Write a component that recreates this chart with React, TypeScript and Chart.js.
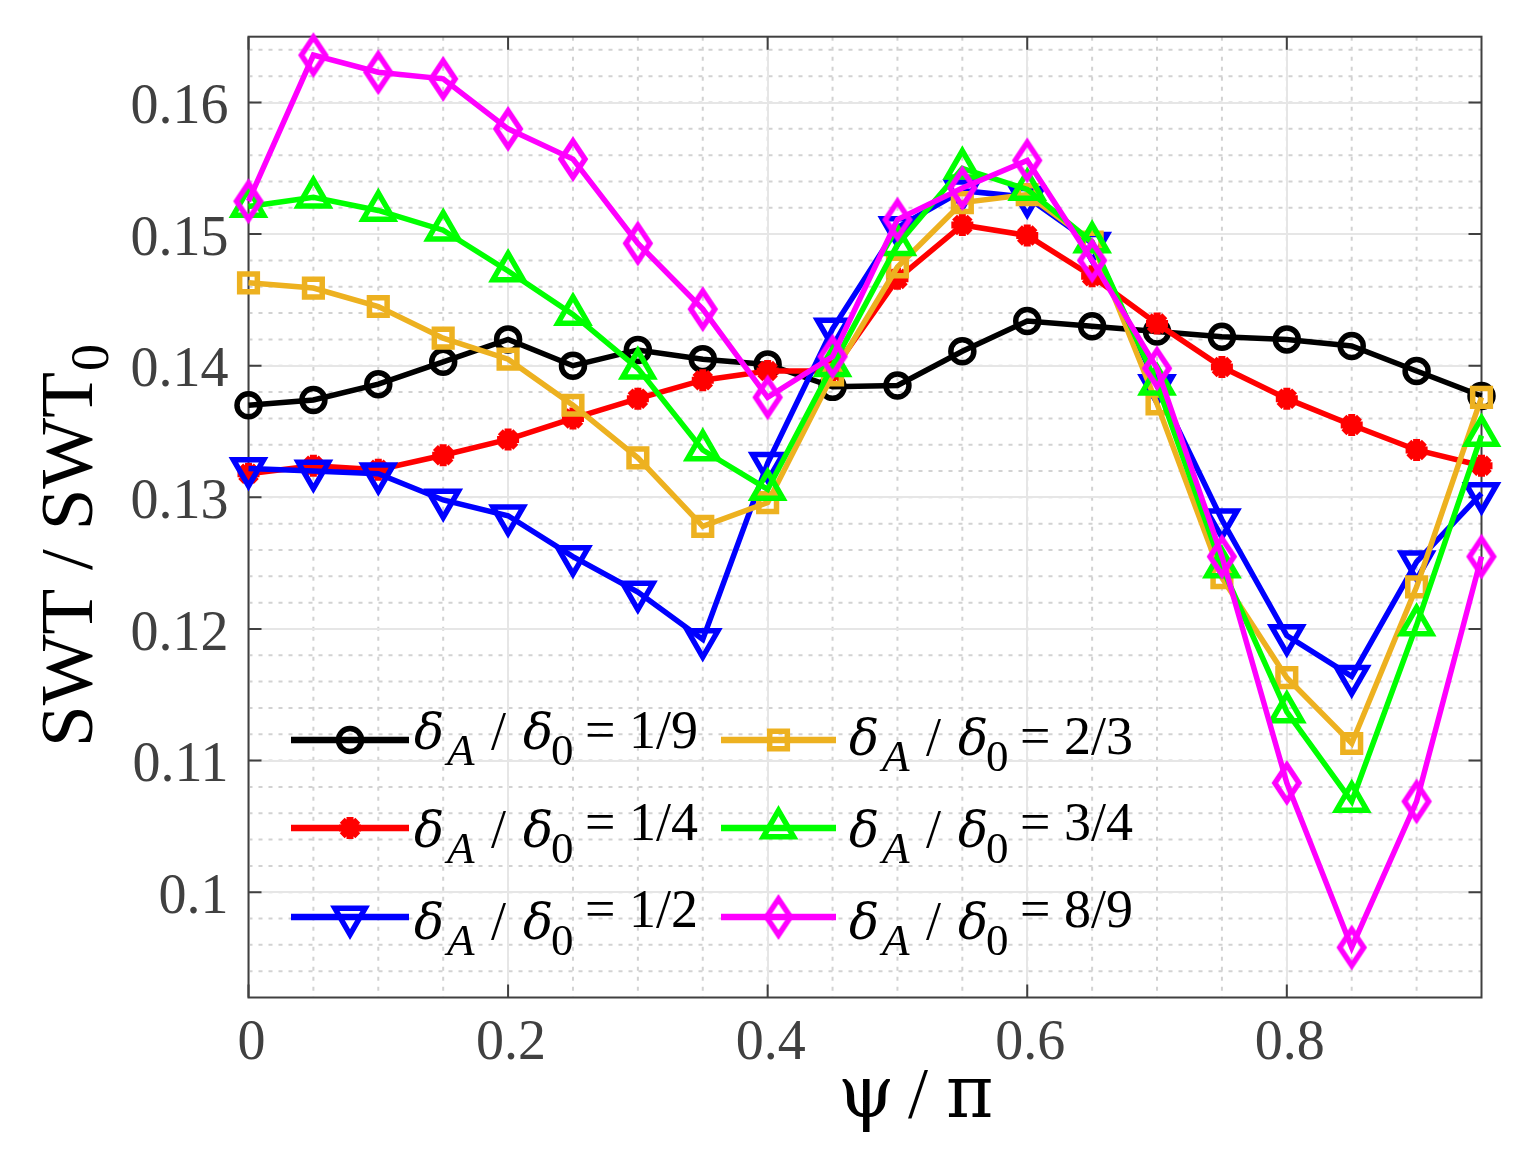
import React, { useEffect, useRef } from "react";
import { Chart, registerables, ChartConfiguration, Plugin } from "chart.js";

Chart.register(...registerables);

const SERIF = '"Liberation Serif", "DejaVu Serif", serif';
const GREEK = '"DejaVu Serif", "Liberation Serif", serif';
const AXIS_GRAY = "#404040";

// psi / pi sample points
const PSI = [0, 0.05, 0.1, 0.15, 0.2, 0.25, 0.3, 0.35, 0.4, 0.45, 0.5, 0.55, 0.6, 0.65, 0.7, 0.75, 0.8, 0.85, 0.9, 0.95];

// SWT / SWT0 for each delta_A / delta_0
const SWT_1_9 = [0.1370, 0.1374, 0.1386, 0.1403, 0.1420, 0.1400, 0.1412, 0.1405, 0.1401, 0.1384, 0.1385, 0.1411, 0.1434, 0.1430, 0.1426, 0.1422, 0.1420, 0.1415, 0.1396, 0.1377];
const SWT_1_4 = [0.1318, 0.1324, 0.1321, 0.1332, 0.1344, 0.1360, 0.1375, 0.1389, 0.1396, 0.1396, 0.1466, 0.1507, 0.1499, 0.1468, 0.1432, 0.1399, 0.1375, 0.1355, 0.1336, 0.1324];
const SWT_1_2 = [0.1322, 0.1320, 0.1318, 0.1298, 0.1286, 0.1255, 0.1228, 0.1192, 0.1326, 0.1428, 0.1505, 0.1533, 0.1528, 0.1493, 0.1385, 0.1283, 0.1195, 0.1164, 0.1251, 0.1303];
const SWT_2_3 = [0.1463, 0.1459, 0.1445, 0.1421, 0.1405, 0.1370, 0.1330, 0.1278, 0.1296, 0.1393, 0.1475, 0.1524, 0.1530, 0.1494, 0.1371, 0.1239, 0.1163, 0.1113, 0.1232, 0.1376];
const SWT_3_4 = [0.1521, 0.1528, 0.1518, 0.1503, 0.1472, 0.1439, 0.1398, 0.1336, 0.1306, 0.1400, 0.1492, 0.1550, 0.1534, 0.1494, 0.1386, 0.1247, 0.1137, 0.1069, 0.1203, 0.1347];
const SWT_8_9 = [0.1525, 0.1636, 0.1623, 0.1618, 0.1580, 0.1557, 0.1493, 0.1443, 0.1376, 0.1407, 0.1511, 0.1535, 0.1556, 0.1480, 0.1398, 0.1255, 0.1083, 0.0958, 0.1069, 0.1255];

const SERIES_LABELS = ["1/9", "1/4", "1/2", "2/3", "3/4", "8/9"];
const SERIES_VALUES = [SWT_1_9, SWT_1_4, SWT_1_2, SWT_2_3, SWT_3_4, SWT_8_9];
const SERIES_COLORS = ["#000000", "#ff0000", "#0000ff", "#edb120", "#00ff00", "#ff00ff"];
type Marker = "circle" | "star" | "triDown" | "square" | "triUp" | "diamond";
const SERIES_MARKERS: Marker[] = ["circle", "star", "triDown", "square", "triUp", "diamond"];

const X_MIN = 0;
const X_MAX = 0.95;
const Y_MIN = 0.092;
const Y_MAX = 0.165;
const X_TICKS = [0, 0.2, 0.4, 0.6, 0.8];
const X_TICK_LABELS = ["0", "0.2", "0.4", "0.6", "0.8"];
const Y_TICKS = [0.1, 0.11, 0.12, 0.13, 0.14, 0.15, 0.16];
const Y_TICK_LABELS = ["0.1", "0.11", "0.12", "0.13", "0.14", "0.15", "0.16"];
const X_MINOR_STEP = 0.05;
const Y_MINOR_STEP = 0.002;

const LINE_W = 5.5;
const MARK_W = 5.5;
const STAR_W = 7;

// legend layout (canvas px)
const LEG_LINE_X = [[291, 409], [721, 836]];
const LEG_TEXT_X = [417, 852];
const LEG_LINE_Y = [740, 828, 917];
const LEG_BASE_Y = [749, 847, 939];
const LEG_NUM_Y = [748, 840, 927];
const LEG_COL2_DY = [6, 0, 0];

function makeDiamond(color: string) {
  const c = document.createElement("canvas");
  c.width = 44;
  c.height = 56;
  const g = c.getContext("2d")!;
  g.strokeStyle = color;
  g.lineWidth = MARK_W;
  g.lineJoin = "miter";
  g.beginPath();
  g.moveTo(22, 10);
  g.lineTo(34, 28);
  g.lineTo(22, 46);
  g.lineTo(10, 28);
  g.closePath();
  g.stroke();
  return c;
}

function pointOpts(m: Marker, diamond: HTMLCanvasElement) {
  switch (m) {
    case "circle":
      return { pointStyle: "circle" as const, pointRadius: 11.5, pointRotation: 0 };
    case "star":
      return { pointStyle: "star" as const, pointRadius: 11, pointRotation: 0, pointBorderWidth: STAR_W };
    case "triDown":
      return { pointStyle: "triangle" as const, pointRadius: 17.5, pointRotation: 180 };
    case "triUp":
      return { pointStyle: "triangle" as const, pointRadius: 17.5, pointRotation: 0 };
    case "square":
      return { pointStyle: "rect" as const, pointRadius: 12.5, pointRotation: 0 };
    default:
      return { pointStyle: diamond as any, pointRadius: 15, pointRotation: 0 };
  }
}

// legend marker, same shapes as the data markers
function drawMarker(ctx: CanvasRenderingContext2D, m: Marker, x: number, y: number, color: string, diamond: HTMLCanvasElement) {
  ctx.save();
  ctx.strokeStyle = color;
  ctx.lineWidth = MARK_W;
  ctx.lineJoin = "miter";
  ctx.setLineDash([]);
  ctx.beginPath();
  if (m === "diamond") {
    ctx.drawImage(diamond, x - diamond.width / 2, y - diamond.height / 2);
    ctx.restore();
    return;
  }
  if (m === "circle") {
    ctx.arc(x, y, 11.5, 0, Math.PI * 2);
  } else if (m === "star") {
    ctx.lineWidth = STAR_W;
    for (let k = 0; k < 4; k++) {
      const t = (k * Math.PI) / 4;
      ctx.moveTo(x + Math.cos(t) * 11, y + Math.sin(t) * 11);
      ctx.lineTo(x - Math.cos(t) * 11, y - Math.sin(t) * 11);
    }
  } else if (m === "square") {
    const h = 12.5 * Math.SQRT1_2;
    ctx.rect(x - h, y - h, 2 * h, 2 * h);
  } else {
    const r = 17.5;
    const s = m === "triUp" ? -1 : 1;
    ctx.moveTo(x, y + s * r);
    ctx.lineTo(x + r * Math.sin((2 * Math.PI) / 3), y - s * r * 0.5);
    ctx.lineTo(x - r * Math.sin((2 * Math.PI) / 3), y - s * r * 0.5);
    ctx.closePath();
  }
  ctx.stroke();
  ctx.restore();
}

export default function App() {
  const canvasRef = useRef<HTMLCanvasElement | null>(null);

  useEffect(() => {
    if (!canvasRef.current) return;
    const diamond = makeDiamond(SERIES_COLORS[5]);

    const datasets = SERIES_VALUES.map((vals, i) => ({
      label: SERIES_LABELS[i],
      data: PSI.map((p, k) => ({ x: p, y: vals[k] })),
      borderColor: SERIES_COLORS[i],
      backgroundColor: SERIES_COLORS[i],
      pointBorderColor: SERIES_COLORS[i],
      pointBackgroundColor: "rgba(0,0,0,0)",
      borderWidth: LINE_W,
      pointBorderWidth: MARK_W,
      tension: 0,
      clip: false as any,
      order: SERIES_VALUES.length - i,
      ...pointOpts(SERIES_MARKERS[i], diamond),
    }));

    const axesPlugin: Plugin<"line"> = {
      id: "matlabAxes",
      beforeDraw(chart) {
        const { ctx, chartArea: a, scales } = chart;
        ctx.save();
        ctx.fillStyle = "#ffffff";
        ctx.fillRect(0, 0, chart.width, chart.height);
        // minor grid, dotted
        ctx.strokeStyle = "#d2d2d2";
        ctx.lineWidth = 2;
        ctx.setLineDash([4, 6]);
        ctx.beginPath();
        for (let k = 1; k * X_MINOR_STEP < X_MAX - 1e-9; k++) {
          const px = scales.x.getPixelForValue(k * X_MINOR_STEP);
          ctx.moveTo(px, a.top);
          ctx.lineTo(px, a.bottom);
        }
        for (let k = Math.ceil(Y_MIN / Y_MINOR_STEP + 1e-6); k * Y_MINOR_STEP < Y_MAX - 1e-9; k++) {
          const py = scales.y.getPixelForValue(k * Y_MINOR_STEP);
          if (py >= a.bottom - 0.5) continue;
          ctx.moveTo(a.left, py);
          ctx.lineTo(a.right, py);
        }
        ctx.stroke();
        ctx.restore();
      },
      beforeDatasetsDraw(chart) {
        const { ctx, chartArea: a, scales } = chart;
        ctx.save();
        ctx.strokeStyle = AXIS_GRAY;
        ctx.lineWidth = 2;
        ctx.setLineDash([]);
        ctx.strokeRect(a.left, a.top, a.right - a.left, a.bottom - a.top);
        ctx.beginPath();
        const tl = 13;
        X_TICKS.forEach((v) => {
          const px = scales.x.getPixelForValue(v);
          ctx.moveTo(px, a.bottom);
          ctx.lineTo(px, a.bottom - tl);
          ctx.moveTo(px, a.top);
          ctx.lineTo(px, a.top + tl);
        });
        Y_TICKS.forEach((v) => {
          const py = scales.y.getPixelForValue(v);
          ctx.moveTo(a.left, py);
          ctx.lineTo(a.left + tl, py);
          ctx.moveTo(a.right, py);
          ctx.lineTo(a.right - tl, py);
        });
        ctx.stroke();
        ctx.restore();
      },
      afterDraw(chart) {
        const { ctx } = chart;
        ctx.save();
        ctx.setLineDash([]);
        ctx.textAlign = "left";
        ctx.textBaseline = "alphabetic";

        // legend
        SERIES_LABELS.forEach((label, i) => {
          const col = i < 3 ? 0 : 1;
          const row = i % 3;
          const [x1, x2] = LEG_LINE_X[col];
          const ly = LEG_LINE_Y[row];
          const color = SERIES_COLORS[i];
          ctx.strokeStyle = color;
          ctx.lineWidth = 6.5;
          ctx.beginPath();
          ctx.moveTo(x1, ly);
          ctx.lineTo(x2, ly);
          ctx.stroke();
          drawMarker(ctx, SERIES_MARKERS[i], (x1 + x2) / 2, ly, color, diamond);

          const s = LEG_TEXT_X[col];
          const dy = col === 1 ? LEG_COL2_DY[row] : 0;
          const by = LEG_BASE_Y[row] + dy;
          ctx.fillStyle = "#000000";
          ctx.font = `italic 50px ${GREEK}`;
          ctx.fillText("δ", s - 3, by);
          ctx.font = `italic 45px ${SERIF}`;
          ctx.fillText("A", s + 30, by + 16);
          ctx.font = `54px ${SERIF}`;
          ctx.fillText("/", s + 74, by);
          ctx.font = `italic 50px ${GREEK}`;
          ctx.fillText("δ", s + 106, by);
          ctx.font = `45px ${SERIF}`;
          ctx.fillText("0", s + 134, by + 16);
          ctx.font = `54px ${SERIF}`;
          ctx.fillText("= " + label, s + 168, LEG_NUM_Y[row] + dy);
        });

        // axis titles
        ctx.fillStyle = "#000000";
        ctx.font = `72px ${GREEK}`;
        ctx.fillText("ψ", 838, 1117);
        ctx.font = `72px ${SERIF}`;
        ctx.fillText("/", 908, 1117);
        ctx.font = `72px ${GREEK}`;
        ctx.fillText("π", 946, 1117);

        ctx.translate(92, 747);
        ctx.rotate(-Math.PI / 2);
        ctx.font = `75px ${SERIF}`;
        const main = "SWT / SWT";
        ctx.fillText(main, 0, 0);
        const w = ctx.measureText(main).width;
        ctx.font = `54px ${SERIF}`;
        ctx.fillText("0", w + 1, 16);
        ctx.restore();
      },
    };

    const config: ChartConfiguration<"line"> = {
      type: "line",
      data: { datasets: datasets as any },
      options: {
        responsive: false,
        animation: false,
        events: [],
        layout: { padding: { top: 36.7, right: 43.5, bottom: 0, left: 0 } },
        plugins: {
          legend: { display: false },
          tooltip: { enabled: false },
        },
        scales: {
          x: {
            type: "linear",
            min: X_MIN,
            max: X_MAX,
            afterBuildTicks: (s: any) => {
              s.ticks = X_TICKS.map((v) => ({ value: v }));
            },
            afterFit: (s: any) => {
              s.height = 157.5;
              s.paddingLeft = 0;
              s.paddingRight = 0;
              s.paddingTop = 0;
              s.paddingBottom = 0;
            },
            ticks: {
              callback: (_v: any, i: number) => X_TICK_LABELS[i],
              color: AXIS_GRAY,
              font: { family: SERIF, size: 56 },
              padding: 13,
              labelOffset: 3,
              autoSkip: false,
              maxRotation: 0,
            },
            grid: { color: "#e6e6e6", lineWidth: 2, drawTicks: false },
            border: { display: false },
          },
          y: {
            type: "linear",
            min: Y_MIN,
            max: Y_MAX,
            afterBuildTicks: (s: any) => {
              s.ticks = Y_TICKS.map((v) => ({ value: v }));
            },
            afterFit: (s: any) => {
              s.width = 248.5;
              s.paddingLeft = 0;
              s.paddingRight = 0;
              s.paddingTop = 0;
              s.paddingBottom = 0;
            },
            ticks: {
              callback: (_v: any, i: number) => Y_TICK_LABELS[i],
              color: AXIS_GRAY,
              font: { family: SERIF, size: 56 },
              padding: 20,
              labelOffset: 6,
              autoSkip: false,
            },
            grid: { color: "#e6e6e6", lineWidth: 2, drawTicks: false },
            border: { display: false },
          },
        },
      },
      plugins: [axesPlugin],
    };

    const ctx = canvasRef.current.getContext("2d");
    if (!ctx) return;
    const chart = new Chart(ctx, config);
    return () => {
      chart.destroy();
    };
  }, []);

  return (
    <div style={{ position: "absolute", left: 0, top: 0, width: 1525, height: 1155, background: "#ffffff" }}>
      <canvas ref={canvasRef} width={1525} height={1155} style={{ display: "block", width: 1525, height: 1155 }} />
    </div>
  );
}
